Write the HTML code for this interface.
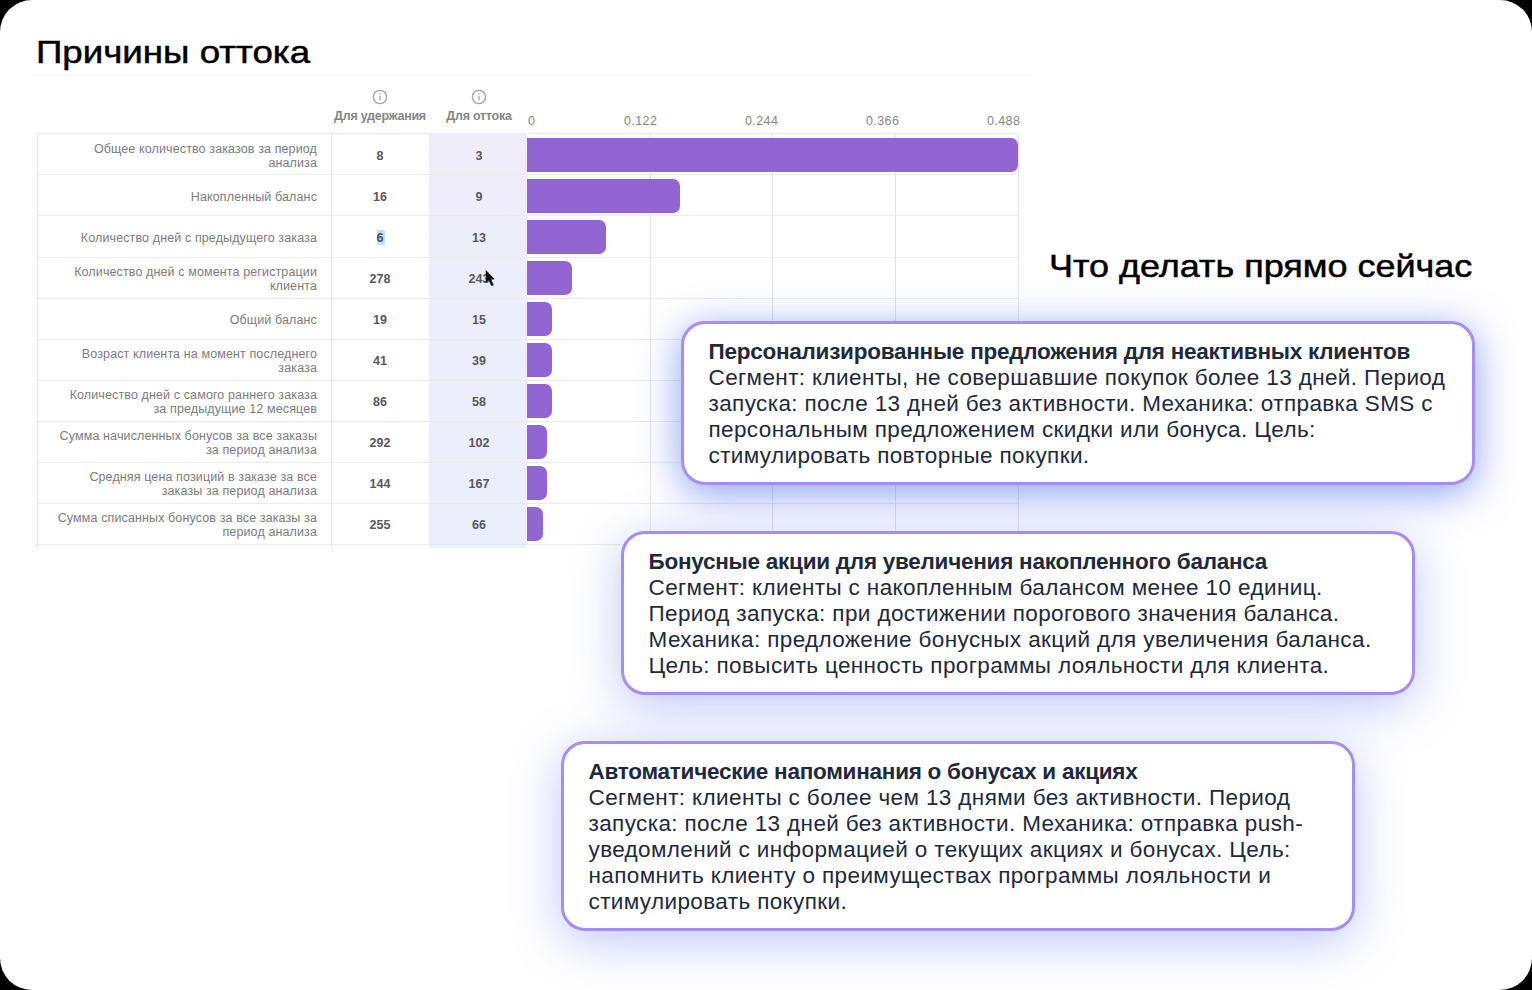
<!DOCTYPE html>
<html><head><meta charset="utf-8">
<style>
html,body{margin:0;padding:0;background:#000;}
body{width:1532px;height:990px;overflow:hidden;position:relative;font-family:"Liberation Sans",sans-serif;}
#page{position:absolute;left:0;top:0;width:1532px;height:990px;background:#fff;border-radius:32px;overflow:hidden;}
.abs{position:absolute;white-space:nowrap;}
.h1{font-size:32px;color:#000;font-weight:400;-webkit-text-stroke:0.5px #000;transform-origin:0 0;}
/* table */
.hl{position:absolute;height:1px;background:#ebebeb;}
.vl{position:absolute;width:1px;background:#e4e4e4;}
.lbl{position:absolute;right:1215px;text-align:right;color:#7c7c7c;font-size:12.5px;line-height:14.2px;white-space:nowrap;letter-spacing:0.12px;}
.num{position:absolute;width:98px;text-align:center;color:#56585e;font-size:12.5px;font-weight:bold;}
.bar{position:absolute;left:527px;height:34px;background:#9166d2;border-radius:0 7px 7px 0;}
.ax{position:absolute;top:113.5px;font-size:12.5px;color:#868686;letter-spacing:0.4px;}
.hdr{position:absolute;width:110px;text-align:center;font-size:12.5px;font-weight:bold;color:#858585;letter-spacing:-0.25px;}
.info{position:absolute;width:12px;height:12px;border:1.3px solid #8a8a8a;border-radius:50%;}
/* cards */
.card{position:absolute;width:788px;border:3px solid #a78bfa;border-radius:24px;background:#fff;box-sizing:content-box;}
.card .t{position:absolute;left:24.5px;top:0;font-size:22.5px;line-height:26px;color:#1e293b;white-space:nowrap;letter-spacing:0.38px;}
.card b{font-weight:bold;letter-spacing:-0.25px;}
</style></head>
<body>
<div id="page">
  <div class="abs h1" style="left:35.8px;top:34px;transform:scaleX(1.146);">Причины оттока</div>
  <div class="abs h1" style="left:1049.2px;top:248px;transform:scaleX(1.124);">Что делать прямо сейчас</div>

  <!-- table -->
  <div style="position:absolute;left:429px;top:134px;width:98px;height:414px;background:linear-gradient(180deg,#f0ecfa 0%,#eceefb 45%,#ebeefb 100%);"></div>
  <div class="hl" style="left:37px;top:133px;width:982px;"></div>
  <div class="hl" style="left:37px;top:174px;width:982px;"></div>
  <div class="hl" style="left:37px;top:215px;width:982px;"></div>
  <div class="hl" style="left:37px;top:257px;width:982px;"></div>
  <div class="hl" style="left:37px;top:298px;width:982px;"></div>
  <div class="hl" style="left:37px;top:339px;width:982px;"></div>
  <div class="hl" style="left:37px;top:380px;width:982px;"></div>
  <div class="hl" style="left:37px;top:421px;width:982px;"></div>
  <div class="hl" style="left:37px;top:462px;width:982px;"></div>
  <div class="hl" style="left:37px;top:503px;width:982px;"></div>
  <div class="hl" style="left:37px;top:544px;width:982px;"></div>
  <div class="vl" style="left:37px;top:133px;height:415px;"></div>
  <div class="vl" style="left:331px;top:133px;height:415px;"></div>
  <div class="vl" style="left:650px;top:133px;height:415px;"></div>
  <div class="vl" style="left:772px;top:133px;height:415px;"></div>
  <div class="vl" style="left:895px;top:133px;height:415px;"></div>
  <div class="vl" style="left:1018px;top:133px;height:415px;"></div>

  <svg style="position:absolute;left:372px;top:89px;" width="16" height="16" viewBox="0 0 16 16"><circle cx="8" cy="8" r="6.6" fill="none" stroke="#a2a2a2" stroke-width="1.3"/><rect x="7.35" y="6.8" width="1.3" height="4.6" fill="#a8a8a8"/><rect x="7.35" y="4.2" width="1.3" height="1.4" fill="#a8a8a8"/></svg>
  <svg style="position:absolute;left:471px;top:89px;" width="16" height="16" viewBox="0 0 16 16"><circle cx="8" cy="8" r="6.6" fill="none" stroke="#a2a2a2" stroke-width="1.3"/><rect x="7.35" y="6.8" width="1.3" height="4.6" fill="#a8a8a8"/><rect x="7.35" y="4.2" width="1.3" height="1.4" fill="#a8a8a8"/></svg>
  <div class="hdr" style="left:325px;top:109px;">Для удержания</div>
  <div class="hdr" style="left:424px;top:109px;">Для оттока</div>

  <div class="ax" style="left:528px;">0</div>
  <div class="ax" style="left:624px;">0.122</div>
  <div class="ax" style="left:745px;">0.244</div>
  <div class="ax" style="left:866px;">0.366</div>
  <div class="ax" style="left:987px;">0.488</div>

  <div class="lbl" style="top:142px;">Общее количество заказов за период<br>анализа</div>
  <div class="lbl" style="top:190px;">Накопленный баланс</div>
  <div class="lbl" style="top:231px;">Количество дней с предыдущего заказа</div>
  <div class="lbl" style="top:265px;">Количество дней с момента регистрации<br>клиента</div>
  <div class="lbl" style="top:313px;">Общий баланс</div>
  <div class="lbl" style="top:347px;">Возраст клиента на момент последнего<br>заказа</div>
  <div class="lbl" style="top:388px;">Количество дней с самого раннего заказа<br>за предыдущие 12 месяцев</div>
  <div class="lbl" style="top:429px;">Сумма начисленных бонусов за все заказы<br>за период анализа</div>
  <div class="lbl" style="top:470px;">Средняя цена позиций в заказе за все<br>заказы за период анализа</div>
  <div class="lbl" style="top:511px;">Сумма списанных бонусов за все заказы за<br>период анализа</div>

  <div class="num" style="left:331px;top:149px;">8</div><div class="num" style="left:430px;top:149px;">3</div>
  <div class="num" style="left:331px;top:190px;">16</div><div class="num" style="left:430px;top:190px;">9</div>
  <div class="num" style="left:430px;top:231px;">13</div>
  <div class="num" style="left:331px;top:272px;">278</div><div class="num" style="left:430px;top:272px;">243</div>
  <div class="num" style="left:331px;top:313px;">19</div><div class="num" style="left:430px;top:313px;">15</div>
  <div class="num" style="left:331px;top:354px;">41</div><div class="num" style="left:430px;top:354px;">39</div>
  <div class="num" style="left:331px;top:395px;">86</div><div class="num" style="left:430px;top:395px;">58</div>
  <div class="num" style="left:331px;top:436px;">292</div><div class="num" style="left:430px;top:436px;">102</div>
  <div class="num" style="left:331px;top:477px;">144</div><div class="num" style="left:430px;top:477px;">167</div>
  <div class="num" style="left:331px;top:518px;">255</div><div class="num" style="left:430px;top:518px;">66</div>

  <div class="bar" style="top:138px;width:491px;"></div>
  <div class="bar" style="top:179px;width:153px;"></div>
  <div class="bar" style="top:220px;width:79px;"></div>
  <div class="bar" style="top:261px;width:45px;"></div>
  <div class="bar" style="top:302px;width:25px;"></div>
  <div class="bar" style="top:343px;width:25px;"></div>
  <div class="bar" style="top:384px;width:25px;"></div>
  <div class="bar" style="top:425px;width:20px;"></div>
  <div class="bar" style="top:466px;width:20px;"></div>
  <div class="bar" style="top:507px;width:16px;"></div>

  <div style="position:absolute;left:377px;top:230px;width:8px;height:15px;background:#c8dcf6;"></div>
  <div class="num" style="left:331px;top:231px;color:#3e4f66;">6</div>
  <svg style="position:absolute;left:484px;top:269px;" width="14" height="20" viewBox="0 0 14 20"><path d="M2 1.5 L2 13.5 L4.8 11 L7.6 16.8 L9.4 16 L6.9 10.4 L10.3 10.1 Z" fill="#111" stroke="#222" stroke-width="0.6" stroke-linejoin="round"/></svg>
  <div class="hl" style="left:32px;top:75px;width:1000px;background:#f8f8f8;"></div>
  <!-- cards -->
  <div class="card" style="left:681px;top:321px;height:158px;box-shadow:0 8px 40px rgba(70,100,240,0.62);">
    <div class="t" style="top:15px;"><b>Персонализированные предложения для неактивных клиентов</b><br>Сегмент: клиенты, не совершавшие покупок более 13 дней. Период<br>запуска: после 13 дней без активности. Механика: отправка SMS с<br>персональным предложением скидки или бонуса. Цель:<br>стимулировать повторные покупки.</div>
  </div>
  <div class="card" style="left:621px;top:531px;height:158px;box-shadow:0 10px 50px rgba(70,100,240,0.36);">
    <div class="t" style="top:15px;"><b>Бонусные акции для увеличения накопленного баланса</b><br>Сегмент: клиенты с накопленным балансом менее 10 единиц.<br>Период запуска: при достижении порогового значения баланса.<br>Механика: предложение бонусных акций для увеличения баланса.<br>Цель: повысить ценность программы лояльности для клиента.</div>
  </div>
  <div class="card" style="left:561px;top:741px;height:184px;box-shadow:0 10px 50px rgba(70,100,240,0.36);">
    <div class="t" style="top:15px;"><b>Автоматические напоминания о бонусах и акциях</b><br>Сегмент: клиенты с более чем 13 днями без активности. Период<br>запуска: после 13 дней без активности. Механика: отправка push-<br>уведомлений с информацией о текущих акциях и бонусах. Цель:<br>напомнить клиенту о преимуществах программы лояльности и<br>стимулировать покупки.</div>
  </div>
</div>
</body></html>
